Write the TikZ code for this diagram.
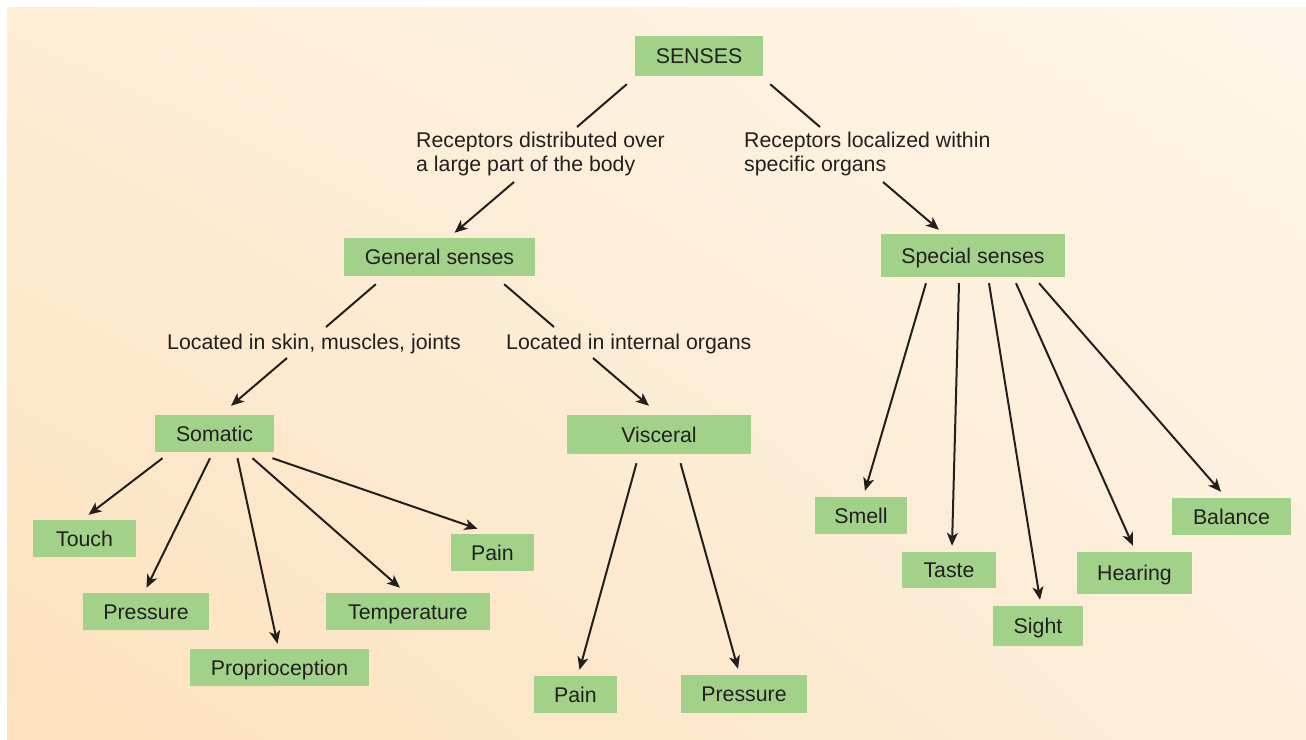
\documentclass[tikz,border=0pt]{standalone}
\usepackage{fontspec}
\setmainfont{Liberation Sans}
\usepackage{xcolor}
\usetikzlibrary{arrows.meta,shadings}

\definecolor{boxgreen}{RGB}{162,210,138}
\definecolor{inkgray}{RGB}{35,31,32}
\definecolor{paperUL}{RGB}{253,237,213}
\definecolor{paperUR}{RGB}{254,246,233}
\definecolor{paperLL}{RGB}{253,225,189}
\definecolor{paperLR}{RGB}{253,238,218}

\tikzset{
  sensebox/.style={fill=boxgreen, text=inkgray, inner sep=0pt, text height=15pt, text depth=0pt,
    font=\fontsize{21.3}{24}\selectfont},
  branchlbl/.style={anchor=base west, inner sep=0pt, align=left, text=inkgray,
    font=\fontsize{21.3}{24}\selectfont},
  link/.style={line width=2pt, draw=inkgray},
  arr/.style={link, -{Stealth[length=13pt,width=11pt,inset=3.5pt]}}
}

\begin{document}
\begin{tikzpicture}[x=1pt,y=-1pt]
  \useasboundingbox (0,0) rectangle (1306,739);
  \fill[white] (0,0) rectangle (1306,739);
  \shade[upper left=paperUL, upper right=paperUR, lower left=paperLL, lower right=paperLR]
    (7,7) rectangle (1306,739);

  % boxes
  \node[sensebox, minimum width=128pt, minimum height=40pt] (senses) at (699,56) {SENSES};
  \node[sensebox, minimum width=191pt, minimum height=38pt] (general) at (439.5,257) {General senses};
  \node[sensebox, minimum width=184pt, minimum height=43pt] (special) at (973,255.5) {Special senses};
  \node[sensebox, minimum width=119pt, minimum height=37pt] (somatic) at (214.5,433.5) {Somatic};
  \node[sensebox, minimum width=184pt, minimum height=39pt] (visceral) at (659,434.5) {Visceral};

  \node[sensebox, minimum width=103pt, minimum height=37pt] (touch) at (84.5,538.5) {Touch};
  \node[sensebox, minimum width=126pt, minimum height=37pt] (pressure) at (146,611.5) {Pressure};
  \node[sensebox, minimum width=179pt, minimum height=37pt] (proprio) at (279.5,667.5) {Proprioception};
  \node[sensebox, minimum width=164pt, minimum height=37pt] (temp) at (408,611.5) {Temperature};
  \node[sensebox, minimum width=83pt, minimum height=37pt] (pain) at (492.5,552.5) {Pain};

  \node[sensebox, minimum width=83pt, minimum height=37pt] (vpain) at (575.5,694.5) {Pain};
  \node[sensebox, minimum width=126pt, minimum height=38pt] (vpressure) at (744,694) {Pressure};

  \node[sensebox, minimum width=92pt, minimum height=37pt] (smell) at (861,515.5) {Smell};
  \node[sensebox, minimum width=94pt, minimum height=36pt] (taste) at (949,570) {Taste};
  \node[sensebox, minimum width=90pt, minimum height=40pt] (sight) at (1038,626) {Sight};
  \node[sensebox, minimum width=115pt, minimum height=42pt] (hearing) at (1134.5,573) {Hearing};
  \node[sensebox, minimum width=119pt, minimum height=37pt] (balance) at (1231.5,516.5) {Balance};

  % branch texts (base = last line)
  \node[branchlbl] (distributed) at (416,171) {Receptors distributed over\\a large part of the body};
  \node[branchlbl] (localized) at (744,171) {Receptors localized within\\specific organs};
  \node[branchlbl] (skin) at (167,349) {Located in skin, muscles, joints};
  \node[branchlbl] (internal) at (506,349) {Located in internal organs};

  % upper levels
  \draw[link] ([shift={(-8,8)}]senses.south west) -- ([shift={(161,-44)}]distributed.base west);
  \draw[arr] ([shift={(98,11)}]distributed.base west) -- ([shift={(15,-5)}]general.north);
  \draw[link] ([shift={(7,8)}]senses.south east) -- ([shift={(76,-44)}]localized.base west);
  \draw[arr] ([shift={(139,11)}]localized.base west) -- ([shift={(-34,-4)}]special.north);

  \draw[link] ([shift={(32,8)}]general.south west) -- ([shift={(159,-22)}]skin.base west);
  \draw[arr] ([shift={(120,9)}]skin.base west) -- ([shift={(16.5,-9)}]somatic.north);
  \draw[link] ([shift={(-31,8)}]general.south east) -- ([shift={(48,-22)}]internal.base west);
  \draw[arr] ([shift={(87,9)}]internal.base west) -- ([shift={(-10,-9)}]visceral.north);

  % leaves
  \foreach \dst/\sx/\ex in {touch/-52/4, pressure/-4.5/0.5, proprio/23/-2, temp/38/-8, pain/58/-15}
    \draw[arr] ([shift={(\sx,6)}]somatic.south) -- ([shift={(\ex,-5)}]\dst.north);
  \foreach \dst/\sx/\ex in {vpain/-22.5/4, vpressure/21.5/-6}
    \draw[arr] ([shift={(\sx,9)}]visceral.south) -- ([shift={(\ex,-6)}]\dst.north);
  \foreach \dst/\sx/\ex in {smell/-47/4, taste/-14/3, sight/16/2, hearing/43/-1.5, balance/66/-10.5}
    \draw[arr] ([shift={(\sx,6)}]special.south) -- ([shift={(\ex,-6)}]\dst.north);
\end{tikzpicture}
\end{document}
